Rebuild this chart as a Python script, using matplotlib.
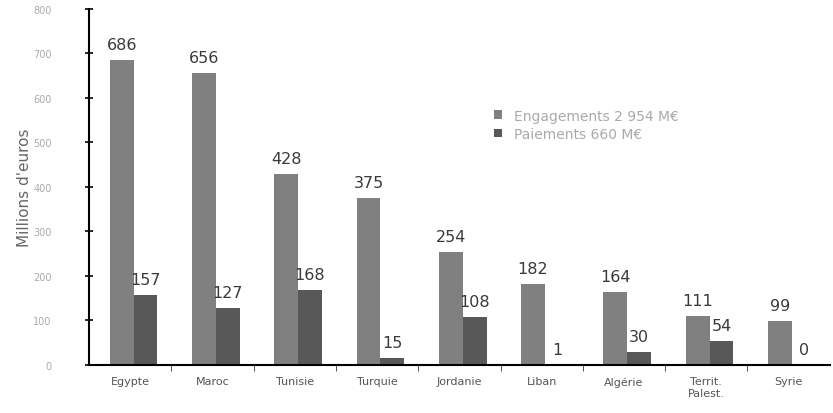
"""Engagements et paiements par pays partenaire (millions d'euros)."""

import numpy as np
import matplotlib
matplotlib.use("Agg")
import matplotlib.pyplot as plt

pays = ["Egypte", "Maroc", "Tunisie", "Turquie", "Jordanie", "Liban",
        "Algérie", "Territ.\nPalest.", "Syrie"]
engagements = [686, 656, 428, 375, 254, 182, 164, 111, 99]
paiements = [157, 127, 168, 15, 108, 1, 30, 54, 0]

lbl_eng = "Engagements 2 954 M€"
lbl_pai = "Paiements 660 M€"

fig = plt.figure(figsize=(8.33, 4.14), dpi=100)
ax = fig.add_axes([0.107, 0.116, 0.889, 0.86])

x = np.arange(len(pays))
w = 0.29
b1 = ax.bar(x - w / 2 + 0.04, engagements, w, color="#808080", label=lbl_eng)
b2 = ax.bar(x + w / 2 + 0.04, paiements, w, color="#585858", label=lbl_pai)

for bars, vals in ((b1, engagements), (b2, paiements)):
    for r, v in zip(bars, vals):
        ax.text(r.get_x() + r.get_width() / 2, v + 18, str(v),
                ha="center", va="bottom", fontsize=11.5, color="#3a3a3a")

ax.set_xlim(-0.5, len(pays) - 0.5)
ax.set_ylim(0, 800)
ax.set_yticks(range(0, 801, 100))
ax.tick_params(axis="y", direction="inout", length=6, width=1.2,
               labelsize=7, labelcolor="#aaaaaa", pad=24)

# categories labelled without ticks, ticks drawn on the group boundaries
ax.set_xticks(x)
ax.set_xticklabels(pays, fontsize=8, color="#555555")
ax.tick_params(axis="x", length=0, pad=8)
ax.set_xticks(np.arange(0.5, len(pays) - 0.5), minor=True)
ax.tick_params(axis="x", which="minor", direction="out", length=4, color="#333333")

for s in ("top", "right"):
    ax.spines[s].set_visible(False)
ax.spines["left"].set_linewidth(1.5)
ax.spines["bottom"].set_linewidth(1.5)

ax.set_ylabel("Millions d'euros", fontsize=11, color="#666666", labelpad=1)

ax.legend(loc="upper left", bbox_to_anchor=(0.53, 0.755), frameon=False,
          fontsize=10, labelcolor="#aaaaaa", handlelength=0.6,
          handleheight=0.6, handletextpad=0.8, labelspacing=0.3)

fig.savefig("out.png", dpi=100)
